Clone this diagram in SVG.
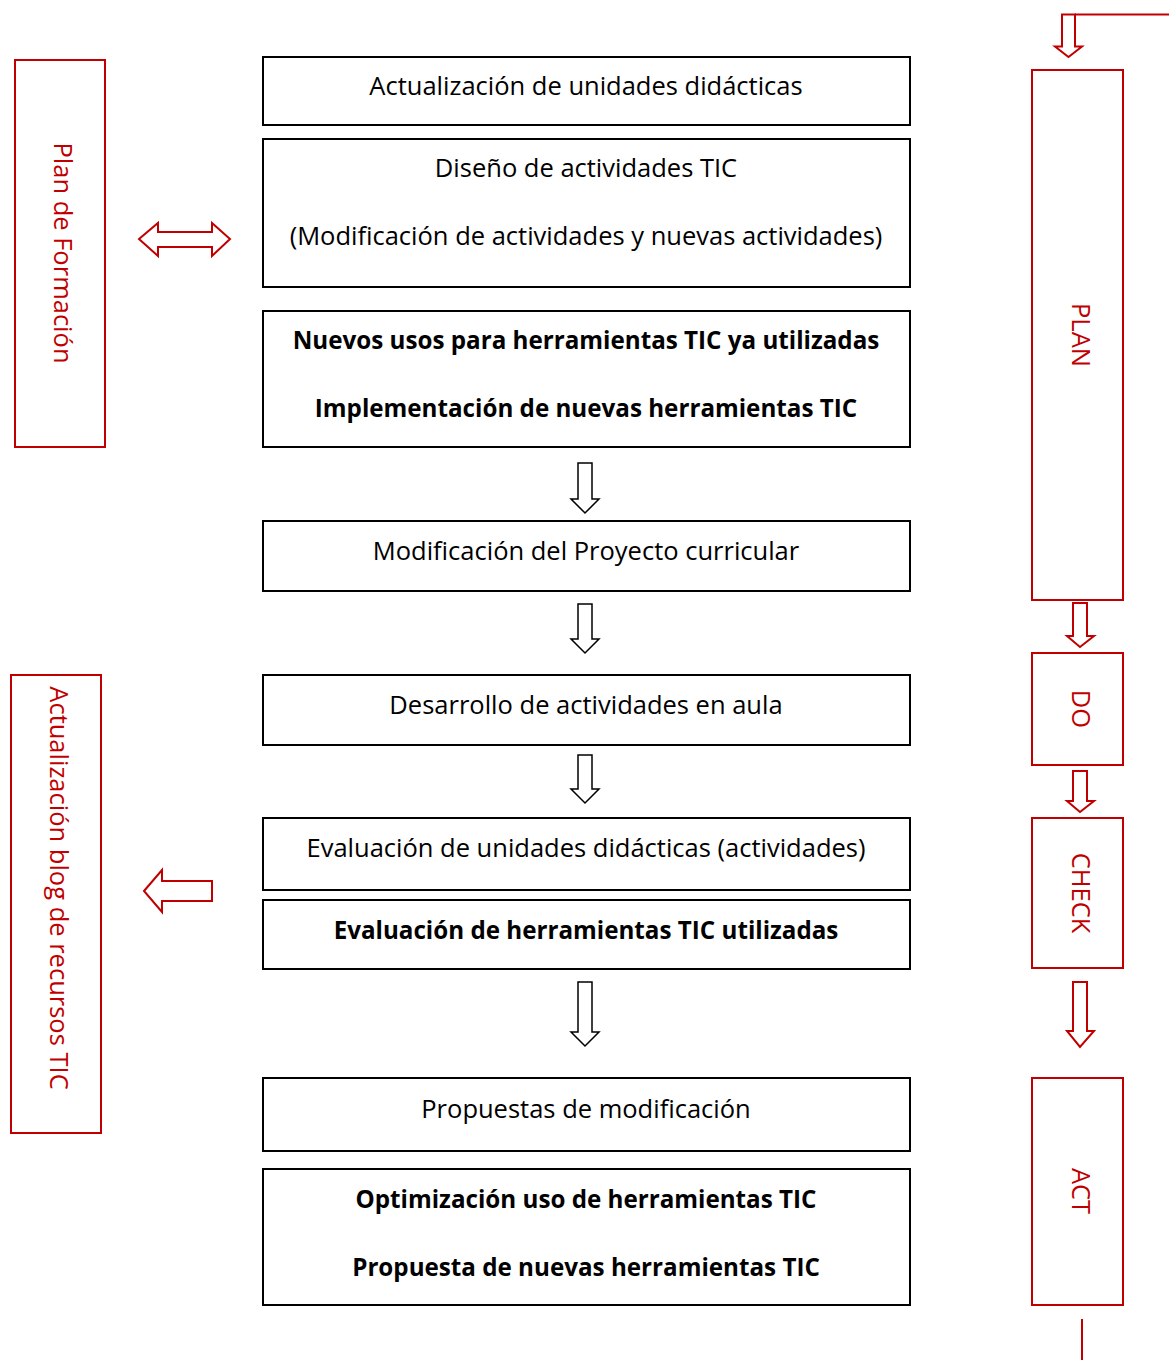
<svg xmlns="http://www.w3.org/2000/svg" width="1169" height="1360" viewBox="0 0 1169 1360">
<style>
.box{fill:#fff;stroke:#000;stroke-width:2}
.rbox{fill:#fff;stroke:#C00000;stroke-width:2}
.t{font-family:"Open Sans","Liberation Sans",sans-serif;font-size:25.5px;fill:#000;text-anchor:middle;dominant-baseline:central}
.b{font-weight:bold;font-size:24.2px}
.rt{font-family:"Open Sans","Liberation Sans",sans-serif;font-size:25.5px;fill:#C00000;text-anchor:middle;dominant-baseline:central}
.ba{fill:#fff;stroke:#000;stroke-width:1.5}
.ra{fill:#fff;stroke:#C00000;stroke-width:2}
.rl{fill:none;stroke:#C00000;stroke-width:2}
</style>
<rect width="1169" height="1360" fill="#fff"/>
<g id="n1"><rect class="box" x="263" y="57" width="647" height="68"/><text class="t" x="586" y="85">Actualización de unidades didácticas</text></g>
<g id="n2"><rect class="box" x="263" y="139" width="647" height="148"/><text class="t" x="586" y="167">Diseño de actividades TIC</text><text class="t" x="586" y="235">(Modificación de actividades y nuevas actividades)</text></g>
<g id="n3"><rect class="box" x="263" y="311" width="647" height="136"/><text class="t b" x="586" y="339">Nuevos usos para herramientas TIC ya utilizadas</text><text class="t b" x="586" y="407">Implementación de nuevas herramientas TIC</text></g>
<g id="n4"><rect class="box" x="263" y="521" width="647" height="70"/><text class="t" x="586" y="550">Modificación del Proyecto curricular</text></g>
<g id="n5"><rect class="box" x="263" y="675" width="647" height="70"/><text class="t" x="586" y="704">Desarrollo de actividades en aula</text></g>
<g id="n6"><rect class="box" x="263" y="818" width="647" height="72"/><text class="t" x="586" y="847">Evaluación de unidades didácticas (actividades)</text></g>
<g id="n7"><rect class="box" x="263" y="900" width="647" height="69"/><text class="t b" x="586" y="929">Evaluación de herramientas TIC utilizadas</text></g>
<g id="n8"><rect class="box" x="263" y="1078" width="647" height="73"/><text class="t" x="586" y="1108">Propuestas de modificación</text></g>
<g id="n9"><rect class="box" x="263" y="1169" width="647" height="136"/><text class="t b" x="586" y="1198">Optimización uso de herramientas TIC</text><text class="t b" x="586" y="1266">Propuesta de nuevas herramientas TIC</text></g>
<g id="plan-formacion"><rect class="rbox" x="15" y="60" width="90" height="387"/><text class="rt" transform="translate(64,253) rotate(90)">Plan de Formación</text></g>
<g id="blog"><rect class="rbox" x="11" y="675" width="90" height="458"/><text class="rt" transform="translate(60,888) rotate(90)">Actualización blog de recursos TIC</text></g>
<g id="plan"><rect class="rbox" x="1032" y="70" width="91" height="530"/><text class="rt" transform="translate(1082,335) rotate(90)">PLAN</text></g>
<g id="do"><rect class="rbox" x="1032" y="653" width="91" height="112"/><text class="rt" transform="translate(1082,709) rotate(90)">DO</text></g>
<g id="check"><rect class="rbox" x="1032" y="818" width="91" height="150"/><text class="rt" transform="translate(1082,893) rotate(90)">CHECK</text></g>
<g id="act"><rect class="rbox" x="1032" y="1078" width="91" height="227"/><text class="rt" transform="translate(1082,1191) rotate(90)">ACT</text></g>
<g id="connectors">
<path class="ba" d="M578,463 H592 V499 H599 L585,513 L571,499 H578 Z"/>
<path class="ba" d="M578,604 H592 V639 H599 L585,653 L571,639 H578 Z"/>
<path class="ba" d="M578,755 H592 V789 H599 L585,803 L571,789 H578 Z"/>
<path class="ba" d="M578,982 H592 V1032 H599 L585,1046 L571,1032 H578 Z"/>
<path class="ra" d="M139,239 L158,223 V232 H212 V223 L230,239 L212,256 V247 H158 V256 Z"/>
<path class="ra" d="M144,891 L162,870 V881 H212 V901 H162 V912 Z"/>
<path class="rl" d="M1169,14.5 H1075"/>
<path class="ra" d="M1062,14.5 H1075 V46.5 H1082 L1068.5,57 L1055,46.5 H1062 Z"/>
<path class="ra" d="M1073,603 H1087 V636 H1094 L1080,647 L1067,636 H1073 Z"/>
<path class="ra" d="M1073,771 H1087 V801 H1094 L1080,812 L1067,801 H1073 Z"/>
<path class="ra" d="M1073,982 H1087 V1031 H1094 L1080,1047 L1067,1031 H1073 Z"/>
<path class="rl" d="M1082,1319 V1360"/>
</g>
</svg>
